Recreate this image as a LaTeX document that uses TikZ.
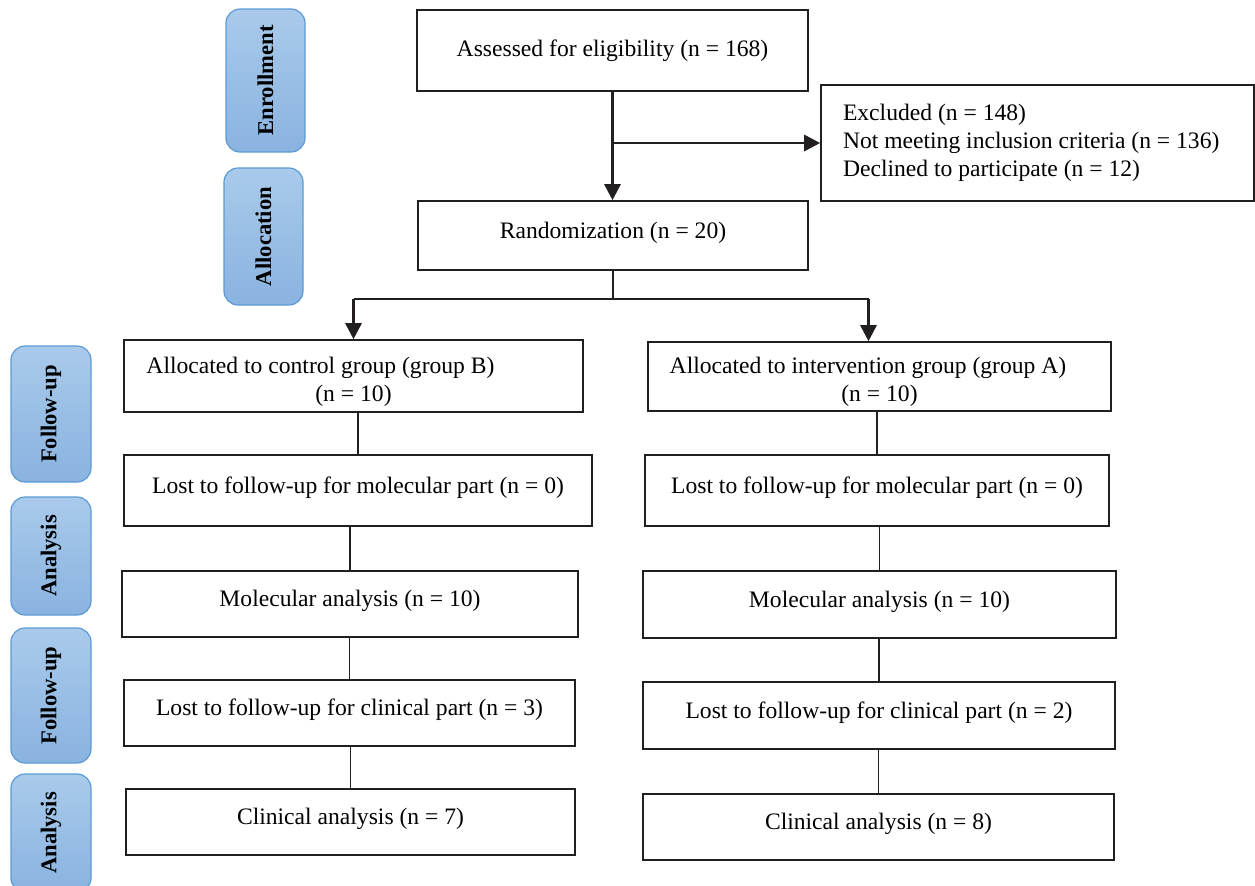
\documentclass[tikz,border=0pt]{standalone}
\usepackage{fontspec}
\setmainfont{Liberation Serif}
\usetikzlibrary{positioning,arrows.meta,shapes.geometric}

\definecolor{stagetop}{HTML}{A9CAEB}
\definecolor{stagebot}{HTML}{8AB3E0}
\definecolor{stageline}{HTML}{5B9BD5}
\definecolor{boxline}{HTML}{231F20}

\tikzset{
	box/.style={draw=boxline, line width=0.8pt, inner sep=0pt, align=center,
		font=\fontsize{11.8}{14}\selectfont},
	lift/.style={text depth=5.5pt},
	drop/.style={text depth=0pt},
	stage/.style={draw=stageline, line width=0.6pt, rounded corners=7pt,
		top color=stagetop, bottom color=stagebot, rotate=90, inner sep=0pt,
		font=\bfseries\fontsize{11.3}{12}\selectfont},
	arr/.style={-{Triangle[length=8pt,width=8pt]}, line width=1.4pt, boxline},
	link/.style={line width=0.7pt, boxline}
}

\begin{document}
\begin{tikzpicture}[x=0.5pt, y=-0.5pt]
	% khung hình (tính theo pixel của ảnh gốc)
	\useasboundingbox (0,0) rectangle (1255,885);
	\clip (0,0) rectangle (1255,885);
	
	% --- CÁC NHÃN GIAI ĐOẠN (màu xanh) ---
	% tên/nhãn/x/y/cao/rộng
	\foreach \nm/\lbl/\x/\y/\h/\w in {
		enr/Enrollment/265.5/80.5/143/79,
		alloc/Allocation/263.5/236.5/137/79,
		fuA/Follow-up/51/414/136/80,
		anA/Analysis/51/556/118/80,
		fuB/Follow-up/51/695.5/135/80,
		anB/Analysis/51/833/118/80
	} {
		\node[stage, minimum width=\h*0.5pt, minimum height=\w*0.5pt] (\nm) at (\x, \y) {\lbl};
	}
	
	% --- TUYỂN CHỌN ---
	\node[box, minimum width=195.5pt, minimum height=40.5pt] (assess) at (612.5, 50.5)
		{Assessed for eligibility (n = 168)};
	\node[box, text width=194.5pt, inner xsep=11pt, minimum height=58pt, align=flush left] (excl) at (1037.5, 143)
		{Excluded (n = 148)\\Not meeting inclusion criteria (n = 136)\\Declined to participate (n = 12)};
	\node[box, lift, minimum width=195pt, minimum height=34.5pt] (rand) at (613, 235.5)
		{Randomization (n = 20)};
	
	% --- NHÓM B (trái) ---
	\node[box, drop, minimum width=229.5pt, minimum height=36pt] (ctrl) at (353.5, 376)
		{\rule{0pt}{11pt}Allocated to control group (group B)\hspace*{33pt}\\(n = 10)};
	\node[box, lift, minimum width=234pt, minimum height=35.5pt] (lmolB) at (358, 490.5)
		{Lost to follow-up for molecular part (n = 0)};
	\node[box, lift, minimum width=228pt, minimum height=33pt] (molB) at (350, 604)
		{Molecular analysis (n = 10)};
	\node[box, lift, minimum width=225.5pt, minimum height=33pt] (lclinB) at (349.5, 713)
		{Lost to follow-up for clinical part (n = 3)};
	\node[box, lift, minimum width=224.5pt, minimum height=33pt] (clinB) at (350.5, 822)
		{Clinical analysis (n = 7)};
	
	% --- NHÓM A (phải) ---
	\node[box, drop, minimum width=231.5pt, minimum height=34.5pt] (intv) at (879.5, 376.5)
		{\rule{0pt}{11pt}Allocated to intervention group (group A)\hspace*{11.5pt}\\(n = 10)};
	\node[box, lift, minimum width=232pt, minimum height=35.5pt] (lmolA) at (877, 490.5)
		{Lost to follow-up for molecular part (n = 0)};
	\node[box, lift, minimum width=236.5pt, minimum height=33.5pt] (molA) at (879.5, 604.5)
		{Molecular analysis (n = 10)};
	\node[box, lift, minimum width=236pt, minimum height=33.5pt] (lclinA) at (879, 715.5)
		{Lost to follow-up for clinical part (n = 2)};
	\node[box, lift, minimum width=235.5pt, minimum height=33pt] (clinA) at (878.5, 827)
		{Clinical analysis (n = 8)};
	
	% --- MŨI TÊN ---
	\draw[arr] (assess.south) -- (assess.south |- rand.north);
	\draw[arr] (assess.south |- excl.west) -- (excl.west);
	
	% chia hai nhánh
	\draw[link, line width=1pt] (rand.south) -- ++(0,28) coordinate (split);
	\draw[line width=1pt, boxline] (split -| ctrl.north) -- ([xshift=-5.5pt]split -| intv.north);
	\draw[arr] (split -| ctrl.north) -- (ctrl.north);
	\draw[arr] ([xshift=-5.5pt]split -| intv.north) -- ([xshift=-5.5pt]intv.north);
	
	% đường nối giữa các ô
	\foreach \a/\b in {ctrl/lmolB, lmolB/molB, molB/lclinB, lclinB/clinB,
		intv/lmolA, lmolA/molA, molA/lclinA, lclinA/clinA} {
		\draw[link] (\b.north) -- (\b.north |- \a.south);
	}
	
\end{tikzpicture}
\end{document}
